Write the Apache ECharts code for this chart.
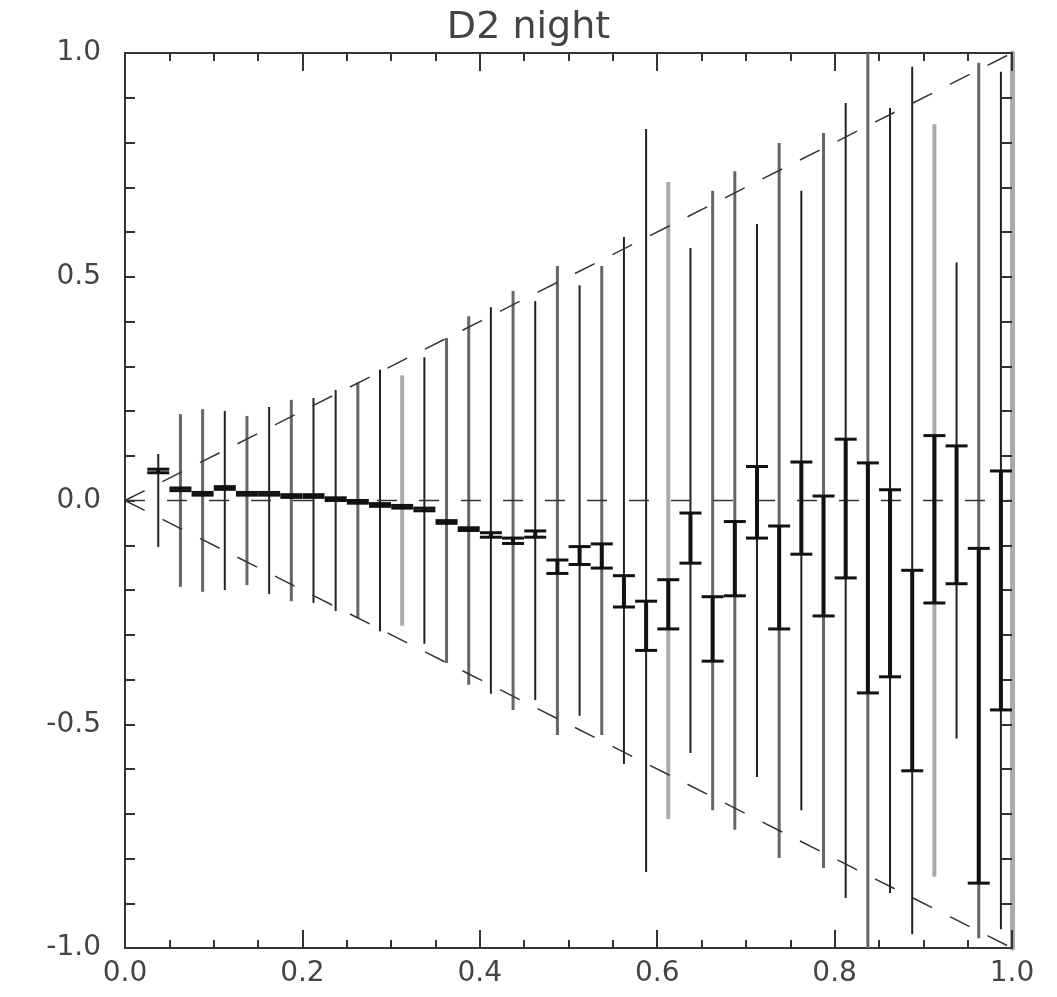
<!DOCTYPE html>
<html>
<head>
<meta charset="utf-8">
<script src="https://cdn.jsdelivr.net/npm/echarts@6/dist/echarts.min.js"></script>
<style>
html,body{margin:0;padding:0;background:#fff;}
#main{width:1057px;height:997px;}
</style>
</head>
<body>
<div id="main"></div>
<script>
// bin centres along x
var binX = [0.0375,0.0625,0.0875,0.1125,0.1375,0.1625,0.1875,0.2125,0.2375,0.2625,
    0.2875,0.3125,0.3375,0.3625,0.3875,0.4125,0.4375,0.4625,0.4875,0.5125,
    0.5375,0.5625,0.5875,0.6125,0.6375,0.6625,0.6875,0.7125,0.7375,0.7625,
    0.7875,0.8125,0.8375,0.8625,0.8875,0.9125,0.9375,0.9625,0.9875];
// half length of the long thin bars (drawn from -s to +s)
var spread = [0.104,0.193,0.204,0.200,0.189,0.209,0.225,0.229,0.247,0.263,
    0.292,0.280,0.320,0.363,0.412,0.432,0.468,0.446,0.524,0.481,
    0.524,0.589,0.830,0.712,0.564,0.692,0.736,0.618,0.799,0.692,
    0.821,0.888,1.000,0.877,0.969,0.841,0.532,0.978,0.958];
// mean and error of the thick bars
var meanVal = [0.066,0.025,0.015,0.028,0.015,0.015,0.010,0.010,0.003,-0.003,
    -0.010,-0.014,-0.020,-0.048,-0.064,-0.077,-0.090,-0.075,-0.148,-0.123,
    -0.124,-0.203,-0.280,-0.232,-0.084,-0.287,-0.130,-0.004,-0.172,-0.017,
    -0.124,-0.018,-0.173,-0.185,-0.380,-0.042,-0.032,-0.481,-0.201];
var meanErr = [0.004,0.003,0.003,0.003,0.003,0.003,0.003,0.003,0.003,0.003,
    0.003,0.003,0.003,0.003,0.003,0.005,0.006,0.007,0.015,0.020,
    0.027,0.035,0.055,0.055,0.056,0.072,0.083,0.080,0.115,0.103,
    0.134,0.155,0.257,0.209,0.224,0.187,0.154,0.374,0.267];
// dashed guide lines
var guideX = [0, 1];
var guideUp = [0, 1];
var guideDown = [0, -1];
var guideZero = [0, 0];

// shade of each thin bar: d dark, m medium, l light
var shade = ['d','m','m','d','m','d','m','d','d','m','d','l','d','m','m','d','m','d','m','d',
    'm','d','d','l','d','m','m','d','m','d','m','d','m','d','d','l','d','m','d'];
var shadeStyle = {
    d: {stroke: '#222', lineWidth: 2},
    m: {stroke: '#666', lineWidth: 3},
    l: {stroke: '#aaa', lineWidth: 4}
};

var myChart = echarts.init(document.getElementById('main'));

var thinData = [], thickData = [];
for (var i = 0; i < binX.length; i++) {
    thinData.push([binX[i], spread[i]]);
    thickData.push([binX[i], meanVal[i], meanErr[i]]);
}
function zip(xs, ys) {
    var out = [];
    for (var i = 0; i < xs.length; i++) out.push([xs[i], ys[i]]);
    return out;
}

var labelStyle = {
    fontSize: 28,
    color: '#444',
    fontFamily: 'DejaVu Sans'
};
var tickLine = {color: '#333', width: 2};

var option = {
    animation: false,
    backgroundColor: '#fff',
    title: {
        text: 'D2 night',
        left: 'center',
        top: 4,
        textStyle: {fontSize: 38, fontWeight: 'normal', color: '#444', fontFamily: 'DejaVu Sans'}
    },
    grid: {left: 125, right: 45, top: 53, bottom: 49},
    xAxis: [
        {
            type: 'value', position: 'bottom', min: 0, max: 1, interval: 0.2,
            splitLine: {show: false},
            axisLine: {onZero: false, lineStyle: {color: '#333', width: 2}},
            axisTick: {inside: true, length: 18, lineStyle: tickLine},
            minorTick: {show: true, splitNumber: 4, length: 8, lineStyle: tickLine},
            axisLabel: {
                margin: 12,
                formatter: function (v) { return v.toFixed(1); },
                fontSize: labelStyle.fontSize, color: labelStyle.color, fontFamily: labelStyle.fontFamily
            }
        },
        {
            type: 'value', position: 'top', min: 0, max: 1, interval: 0.2,
            splitLine: {show: false},
            axisLine: {onZero: false, lineStyle: {color: '#333', width: 2}},
            axisTick: {inside: true, length: 18, lineStyle: tickLine},
            minorTick: {show: true, splitNumber: 4, length: 8, lineStyle: tickLine},
            axisLabel: {show: false}
        }
    ],
    yAxis: [
        {
            type: 'value', position: 'left', min: -1, max: 1, interval: 0.5,
            splitLine: {show: false},
            axisLine: {onZero: false, lineStyle: {color: '#333', width: 2}},
            axisTick: {inside: true, length: 10, lineStyle: tickLine},
            minorTick: {show: true, splitNumber: 5, length: 10, lineStyle: tickLine},
            axisLabel: {
                margin: 24,
                formatter: function (v) { return v.toFixed(1); },
                fontSize: labelStyle.fontSize, color: labelStyle.color, fontFamily: labelStyle.fontFamily
            }
        },
        {
            type: 'value', position: 'right', min: -1, max: 1, interval: 0.5,
            splitLine: {show: false},
            axisLine: {onZero: false, lineStyle: {color: '#aaa', width: 5}},
            axisTick: {inside: true, length: 10, lineStyle: tickLine},
            minorTick: {show: true, splitNumber: 5, length: 10, lineStyle: tickLine},
            axisLabel: {show: false}
        }
    ],
    series: [
        {
            name: 'spread',
            type: 'custom',
            clip: true,
            z: 2,
            data: thinData,
            renderItem: function (params, api) {
                var x = api.value(0), s = api.value(1);
                var p1 = api.coord([x, s]), p2 = api.coord([x, -s]);
                var st = shadeStyle[shade[params.dataIndex]];
                return {
                    type: 'line',
                    shape: {x1: p1[0], y1: p1[1], x2: p2[0], y2: p2[1]},
                    style: {stroke: st.stroke, lineWidth: st.lineWidth}
                };
            }
        },
        {
            name: 'upper',
            type: 'line',
            z: 3,
            symbol: 'none',
            data: zip(guideX, guideUp),
            lineStyle: {color: '#333', width: 1.5, type: [22, 20]}
        },
        {
            name: 'lower',
            type: 'line',
            z: 3,
            symbol: 'none',
            data: zip(guideX, guideDown),
            lineStyle: {color: '#333', width: 1.5, type: [22, 20]}
        },
        {
            name: 'zero',
            type: 'line',
            z: 3,
            symbol: 'none',
            data: zip(guideX, guideZero),
            lineStyle: {color: '#333', width: 1.5, type: [20, 22]}
        },
        {
            name: 'mean',
            type: 'custom',
            z: 4,
            data: thickData,
            renderItem: function (params, api) {
                var x = api.value(0), m = api.value(1), e = api.value(2);
                var top = api.coord([x, m + e]), bot = api.coord([x, m - e]);
                var half = 11;
                return {
                    type: 'group',
                    children: [
                        {type: 'line', shape: {x1: top[0], y1: top[1], x2: bot[0], y2: bot[1]},
                            style: {stroke: '#111', lineWidth: 4}},
                        {type: 'line', shape: {x1: top[0] - half, y1: top[1], x2: top[0] + half, y2: top[1]},
                            style: {stroke: '#111', lineWidth: 3}},
                        {type: 'line', shape: {x1: bot[0] - half, y1: bot[1], x2: bot[0] + half, y2: bot[1]},
                            style: {stroke: '#111', lineWidth: 3}}
                    ]
                };
            }
        }
    ]
};
myChart.setOption(option);
</script>
</body>
</html>
